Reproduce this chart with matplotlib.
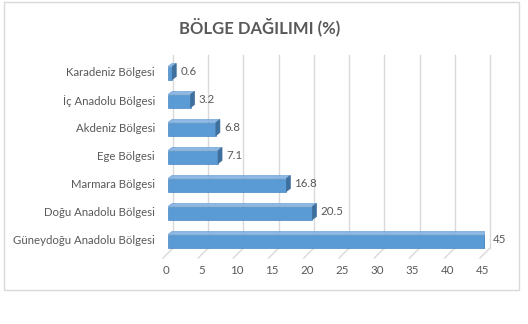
import matplotlib
matplotlib.use("Agg")
import matplotlib.pyplot as plt
from matplotlib.patches import Polygon, Rectangle
from matplotlib.transforms import ScaledTranslation
import numpy as np

plt.rcParams['font.family'] = ['Lato', 'DejaVu Sans']

categories = ["Güneydoğu Anadolu Bölgesi", "Doğu Anadolu Bölgesi", "Marmara Bölgesi",
              "Ege Bölgesi", "Akdeniz Bölgesi", "İç Anadolu Bölgesi", "Karadeniz Bölgesi"]
values = [45, 20.5, 16.8, 7.1, 6.8, 3.2, 0.6]
value_labels = ["45", "20.5", "16.8", "7.1", "6.8", "3.2", "0.6"]
xticks = [0, 5, 10, 15, 20, 25, 30, 35, 40, 45]
title = "BÖLGE DAĞILIMI (%)"

W, H = 528, 324
DPI = 100
fig = plt.figure(figsize=(W / DPI, H / DPI), dpi=DPI)

# outer border
fig.patches.append(Rectangle((4 / W, 1 - 290 / H), 515 / W, 288 / H, transform=fig.transFigure,
                             fill=False, edgecolor="#d9d9d9", linewidth=1.0))

# axes (front plane): x pixel 168 -> 485, y pixel 55 -> 256
x0, x1 = 168, 485
yt, yb = 55, 256
ax = fig.add_axes([x0 / W, 1 - yb / H, (x1 - x0) / W, (yb - yt) / H])
ax.set_xlim(0, 45)
n = len(categories)
ax.set_ylim((241 - yb) / 28.0, (241 - yt) / 28.0)
for s in ax.spines.values():
    s.set_visible(False)
ax.set_xticks([])
ax.set_yticks([])
ax.patch.set_alpha(0)

def off(dx_px, dy_px):
    return ax.transData + ScaledTranslation(dx_px / DPI, dy_px / DPI, fig.dpi_scale_trans)

grid_c = "#d9d9d9"
txt_c = "#595959"
ylo, yhi = ax.get_ylim()
floor_back = (241 - 248) / 28.0
floor_front = (241 - 258) / 28.0
for v in xticks:
    ax.plot([v, v], [floor_back, yhi], color=grid_c, lw=1.0, transform=off(5, 0), clip_on=False, zorder=1)
    ax.plot([v + 5 / 7.04, v - 5 / 7.04], [floor_back, floor_front], color=grid_c, lw=1.0,
            clip_on=False, zorder=1)

bar_h = 13 / 28.0
ypos = np.arange(n)
ax.barh(ypos, values, height=bar_h, color="#5b9bd5", edgecolor="#4a86c0", linewidth=0.5, zorder=3)

dxp, dyp = 4, 3  # depth in pixels
dxd = dxp / 7.04
dyd = dyp / 28.0
for y, v, lab in zip(ypos, values, value_labels):
    top = y + bar_h / 2
    bot = y - bar_h / 2
    ax.add_patch(Polygon([[0, top], [v, top], [v + dxd, top + dyd], [dxd, top + dyd]],
                         closed=True, facecolor="#8db8e3", edgecolor="#6fa3d6", lw=0.5, zorder=3))
    ax.add_patch(Polygon([[v, bot], [v + dxd, bot + dyd], [v + dxd, top + dyd], [v, top]],
                         closed=True, facecolor="#3f6f9c", edgecolor="#3f6f9c", lw=0.5, zorder=3))
    ax.text(v + dxd + 4 / 7.04, y + dyd / 2, lab, va="center", ha="left", fontsize=8.3,
            color=txt_c, zorder=4)

for y, c in zip(ypos, categories):
    ax.text(-13 / 7.04, y, c, ha="right", va="center", fontsize=8.2, color=txt_c)

for v in xticks:
    ax.text(v - 2 / 7.04, (241 - 271) / 28.0, str(v), ha="center", va="center", fontsize=8.3,
            color=txt_c, clip_on=False)

fig.text(260 / W, 1 - 27 / H, title, ha="center", va="center", fontsize=12, fontweight="bold",
         color=txt_c)

fig.savefig("out.png", dpi=DPI)
